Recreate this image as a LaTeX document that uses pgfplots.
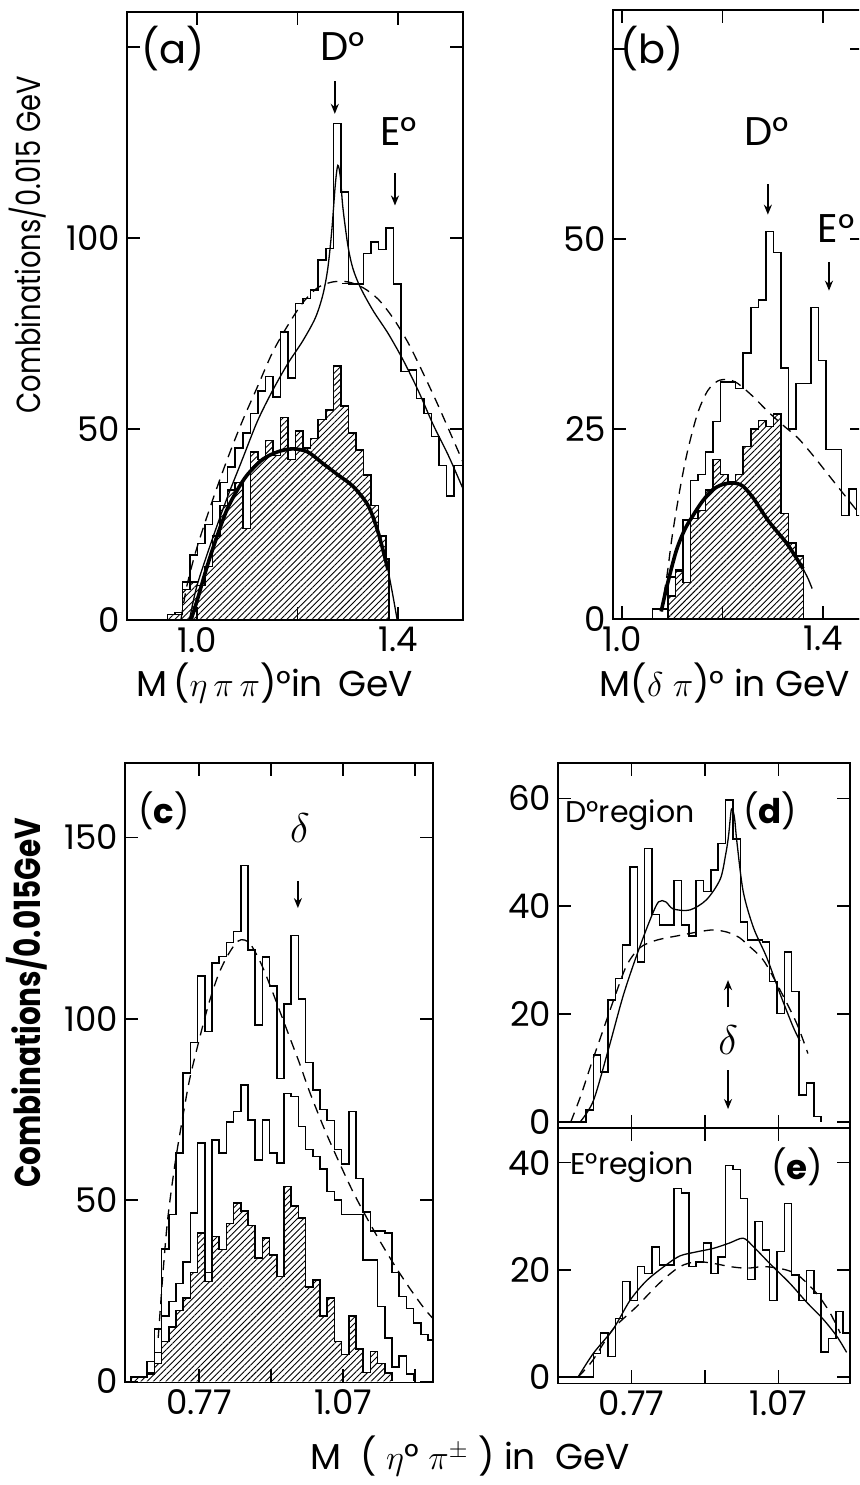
\documentclass[border=0pt]{standalone}
\usepackage{fontspec}
\setmainfont{Poppins}
\newfontfamily\condfont{Poppins}[FakeStretch=0.82]
\usepackage{pgfplots}
\pgfplotsset{compat=1.18}
\usetikzlibrary{arrows.meta,patterns.meta}

\newcommand\tls{\fontsize{17}{19}\selectfont}
\newcommand\lbl{\fontsize{15}{18}\selectfont}
\newcommand\plbl{\fontsize{20}{22}\selectfont}
\newcommand\rlbl{\fontsize{17}{19}\selectfont}
\newcommand\xlbl{\fontsize{18}{20}\selectfont}
\newcommand\ylbla{\condfont\fontsize{16.7}{18}\selectfont}
\newcommand\ylblc{\condfont\fontsize{18}{20}\selectfont}
\newcommand\bigdelta{\fontsize{20}{22}\selectfont}

\tikzset{arr/.style={-{Stealth[length=5pt,width=4pt]}, line width=0.9pt}}
\pgfplotsset{
  panel/.style={
    scale only axis, anchor=south west, clip mode=individual,
    axis line style={line width=0.9pt},
    tick align=inside, major tick length=6.5pt,
    every tick/.style={black, line width=0.8pt},
    tick label style={font=\tls},
  },
  hist/.style={const plot, black, line width=0.75pt, mark=none},
  hatch/.style={hist, pattern={Lines[angle=45,distance=2.2pt,line width=0.45pt]}, pattern color=black},
  fit/.style={black, line width=0.65pt, smooth, mark=none},
  thickfit/.style={black, line width=1.8pt, smooth, mark=none},
  bg/.style={black, line width=0.65pt, dash pattern=on 5pt off 3.5pt, smooth, mark=none},
}

\begin{document}
\begin{tikzpicture}
\useasboundingbox (0,0) rectangle (429.5pt,742.5pt);
\clip (0,0) rectangle (429.5pt,742.5pt);

% ---------------- (a)
\begin{axis}[panel, at={(63.5pt,432.5pt)}, width=168pt, height=304pt,
  xmin=0.86083, xmax=1.52883, ymin=0, ymax=159.16,
  xtick={1.0,1.2,1.4}, xticklabels={1.0,,1.4},
  ytick={0,50,100,150}, yticklabels={0,50,100,},
  xlabel={M\,($\eta\,\pi\,\pi$)°in\, GeV},
  xlabel style={at={(axis description cs:0.44,-0.1266)}, anchor=base, font=\xlbl},
  ylabel={Combinations/0.015 GeV},
  ylabel style={at={(axis description cs:-0.295,0.617)}, anchor=center, font=\ylbla}]
\addplot[hist] coordinates {(0.941,0)(0.941,1.5)(0.956,2)(0.971,10)(0.986,17)(1.001,20)(1.016,25)(1.031,31)(1.046,36)(1.061,40)(1.076,45)(1.091,49)(1.106,54)(1.121,60)(1.136,63.7)(1.151,58.4)(1.166,75.4)(1.181,63.3)(1.196,82.9)(1.211,84.2)(1.226,86.4)(1.241,94.2)(1.256,97.3)(1.271,130)(1.286,112)(1.301,88)(1.316,88)(1.331,96)(1.346,99)(1.361,97)(1.376,102.6)(1.391,88)(1.406,65)(1.421,65.5)(1.436,58)(1.451,54)(1.466,48)(1.481,40.5)(1.496,32.5)(1.511,40.5)(1.53,40.5)};
\addplot[hatch] coordinates {(0.941,0)(0.941,1.5)(0.956,1.5)(0.971,8)(0.986,10)(1.001,9)(1.016,14)(1.031,22)(1.046,30)(1.061,34)(1.076,36)(1.091,24)(1.106,44)(1.121,42)(1.136,47)(1.151,43)(1.166,53)(1.181,42)(1.196,49.5)(1.211,45)(1.226,47.5)(1.241,52.5)(1.256,55)(1.271,66.5)(1.286,56)(1.301,49)(1.316,44.5)(1.331,38)(1.346,30)(1.361,22)(1.376,16)(1.382,0)};
\addplot[bg] coordinates {(0.968,0)(0.98,9)(1.0,19)(1.03,31)(1.06,42)(1.09,52)(1.12,61)(1.15,70)(1.18,77)(1.21,83)(1.24,87)(1.27,88.5)(1.30,88.5)(1.33,87)(1.36,84)(1.39,79)(1.42,72.5)(1.45,64.5)(1.48,56)(1.51,47)(1.53,41)};
\addplot[fit] coordinates {(0.985,0)(1.0,9)(1.03,21)(1.06,32)(1.09,42)(1.12,52)(1.15,60)(1.18,67)(1.21,73)(1.235,79)(1.25,85)(1.26,92)(1.268,102)(1.275,114)(1.28,119)(1.285,116)(1.29,108)(1.30,98)(1.31,92)(1.325,87)(1.35,81)(1.38,75)(1.41,68)(1.44,60)(1.47,51)(1.50,43)(1.53,34)};
\addplot[fit, sharp plot] coordinates {(1.288,88)(1.322,88)};
\addplot[thickfit] coordinates {(0.988,0)(1.0,5)(1.02,14)(1.04,22)(1.06,29)(1.08,34)(1.10,38)(1.13,42)(1.16,44)(1.19,44.8)(1.22,44)(1.25,41)(1.28,38)(1.31,35)(1.34,30)(1.36,23)(1.38,13)};
\addplot[fit] coordinates {(1.38,13)(1.39,6)(1.398,0)};
\node[font=\plbl] at (axis cs:0.9523,149.7) {(a)};
\node[font=\plbl] at (axis cs:1.289,150) {D°};
\draw[arr] (axis cs:1.274,141) -- (axis cs:1.274,132.5);
\node[font=\plbl] at (axis cs:1.4006,128) {E°};
\draw[arr] (axis cs:1.3936,117) -- (axis cs:1.3936,108.5);
\end{axis}

% ---------------- (b)
\begin{axis}[panel, at={(306.5pt,433pt)}, width=125pt, height=304.5pt,
  xmin=0.98211, xmax=1.47913, ymin=0, ymax=80.13,
  xtick={1.0,1.2,1.4}, xticklabels={1.0,,1.4},
  ytick={0,25,50,75}, yticklabels={0,25,50,},
  xlabel={M($\delta\;\pi$)° in GeV},
  xlabel style={at={(axis description cs:0.448,-0.128)}, anchor=base, font=\xlbl}]
\addplot[hist] coordinates {(1.061,0)(1.061,1.3)(1.076,1.3)(1.091,5.5)(1.106,6.5)(1.121,13)(1.136,18.2)(1.151,19)(1.166,22)(1.181,26)(1.196,31.2)(1.211,31.2)(1.226,30.3)(1.241,35)(1.256,41)(1.271,42)(1.286,51)(1.301,48.2)(1.316,33)(1.331,25)(1.346,31)(1.361,31)(1.376,41)(1.391,34)(1.406,22.3)(1.421,22.3)(1.436,13.6)(1.451,17.1)(1.466,13.6)(1.481,13.6)};
\addplot[hatch] coordinates {(1.091,0)(1.091,3)(1.106,6.3)(1.121,4.8)(1.136,13.2)(1.151,14.3)(1.166,17)(1.181,21)(1.196,19)(1.211,18)(1.226,19)(1.241,22.7)(1.256,25)(1.271,26.1)(1.286,25.3)(1.301,27)(1.316,13.9)(1.331,10)(1.346,8.3)(1.361,0)};
\addplot[bg] coordinates {(1.078,1)(1.09,6)(1.10,11)(1.115,17)(1.13,22)(1.15,27)(1.17,30)(1.19,31.3)(1.21,31.5)(1.23,31)(1.26,29.3)(1.29,27.3)(1.32,25.5)(1.35,23.8)(1.38,21.5)(1.41,19)(1.44,16.5)(1.47,14)(1.48,13.2)};
\addplot[thickfit] coordinates {(1.078,1)(1.09,4.5)(1.108,9)(1.125,11.8)(1.141,13.6)(1.16,15.5)(1.18,17)(1.20,17.7)(1.221,17.9)(1.24,17.5)(1.26,16)(1.274,14.6)(1.29,13)(1.307,11.6)(1.327,10)(1.345,8.2)(1.36,6.6)};
\addplot[fit] coordinates {(1.36,6.6)(1.37,5.3)(1.378,4)};
\node[font=\plbl] at (axis cs:1.0596,75.1) {(b)};
\node[font=\plbl] at (axis cs:1.2883,64.1) {D°};
\draw[arr] (axis cs:1.29,57.2) -- (axis cs:1.29,53.2);
\node[font=\plbl] at (axis cs:1.4254,51.4) {E°};
\draw[arr] (axis cs:1.4115,47) -- (axis cs:1.4115,43.2);
\end{axis}

% ---------------- (c)
\begin{axis}[panel, at={(62.5pt,51.25pt)}, width=154pt, height=309.75pt,
  xmin=0.61583, xmax=1.2575, ymin=-0.28, ymax=170.5,
  xtick={0.77,0.92,1.07,1.22}, xticklabels={0.77,,1.07,},
  ytick={0,50,100,150}, yticklabels={0,50,100,150},
  xlabel={M\ \ ( $\eta$° $\pi^{\pm}$ ) in\ \ GeV},
  xlabel style={at={(axis description cs:1.12,-0.1412)}, anchor=base, font=\xlbl},
  ylabel={\bfseries Combinations/0.015GeV},
  ylabel style={at={(axis description cs:-0.318,0.6126)}, anchor=center, font=\ylblc}]
\addplot[hist] coordinates {(0.628,0)(0.628,1.2)(0.647,1.2)(0.662,5.5)(0.677,14.5)(0.692,36.5)(0.707,46)(0.722,63)(0.737,85)(0.752,93.5)(0.767,111.8)(0.782,96.5)(0.797,115.3)(0.812,117.2)(0.827,121)(0.842,124)(0.857,142.2)(0.872,119)(0.887,98.3)(0.902,117)(0.917,109)(0.932,83.5)(0.947,104)(0.962,123)(0.977,105.5)(0.992,88)(1.007,80.4)(1.022,75)(1.037,72)(1.052,64)(1.067,60)(1.082,74.4)(1.097,56)(1.112,46.7)(1.127,41.5)(1.142,41.5)(1.157,40.9)(1.172,30)(1.187,23.4)(1.202,20.1)(1.217,16.1)(1.232,13)(1.247,11.5)(1.26,11.5)};
\addplot[hist] coordinates {(0.628,0)(0.628,1.2)(0.647,1.2)(0.662,2.5)(0.677,8)(0.692,18)(0.707,22)(0.722,27)(0.737,33)(0.752,46.4)(0.767,65.7)(0.782,30)(0.797,66.6)(0.812,63)(0.827,71.6)(0.842,74.4)(0.857,81.7)(0.872,72.1)(0.887,61)(0.902,72.1)(0.917,63)(0.932,60.2)(0.947,79.4)(0.962,78.5)(0.977,70.3)(0.992,64)(1.007,62)(1.022,58.6)(1.037,52.4)(1.052,50)(1.067,46)(1.082,46)(1.097,46)(1.112,33.5)(1.127,33.5)(1.142,20.7)(1.157,12)(1.172,4)(1.187,7)(1.202,2)(1.217,0)};
\addplot[hatch] coordinates {(0.628,0)(0.628,1.2)(0.647,1.2)(0.662,2)(0.677,5)(0.692,11)(0.707,15)(0.722,19.5)(0.737,23)(0.752,30)(0.767,41)(0.782,27.5)(0.797,40)(0.812,36.4)(0.827,43.6)(0.842,49.2)(0.857,47)(0.872,43)(0.887,34)(0.902,39.6)(0.917,34.8)(0.932,29)(0.947,53.7)(0.962,48.4)(0.977,45)(0.992,26)(1.007,28)(1.022,18)(1.037,23)(1.052,11)(1.067,7.5)(1.082,18)(1.097,9)(1.112,2.5)(1.127,8.2)(1.142,5)(1.157,2.3)(1.172,0)};
\addplot[bg] coordinates {(0.685,12)(0.695,30)(0.705,45)(0.72,60)(0.735,72)(0.75,83)(0.77,94)(0.79,104)(0.81,112)(0.83,117.5)(0.85,121.3)(0.865,121.7)(0.88,120)(0.90,115)(0.92,108.5)(0.94,101.5)(0.96,94.5)(0.98,87.5)(1.0,80)(1.03,70)(1.06,61)(1.09,52.5)(1.12,45)(1.15,38)(1.18,31.5)(1.21,25.5)(1.24,20)(1.26,17)};
\node[font=\rlbl] at (axis cs:0.697,157.3) {(\textbf{c})};
\node[font=\bigdelta] at (axis cs:0.98,152.6) {$\delta$};
\draw[arr] (axis cs:0.976,138) -- (axis cs:0.976,130.5);
\end{axis}

% ---------------- (d)
\begin{axis}[panel, at={(279.15pt,178.5pt)}, width=145.85pt, height=182.35pt,
  xmin=0.6206, xmax=1.2159, ymin=-1.11, ymax=66.49,
  xtick={0.77,0.92,1.07}, xticklabels={},
  ytick={0,20,40,60}, yticklabels={0,20,40,60}]
\addplot[hist] coordinates {(0.6206,0)(0.677,2.2)(0.692,12.4)(0.707,9.3)(0.722,22.6)(0.737,26.6)(0.752,32.8)(0.767,47.3)(0.782,29.7)(0.797,50.7)(0.812,38.5)(0.827,36.5)(0.842,36.5)(0.857,44.8)(0.872,36.5)(0.887,34.5)(0.902,44.8)(0.917,42.7)(0.932,46.7)(0.947,51.6)(0.962,59.7)(0.977,52.5)(0.992,37.1)(1.007,33.7)(1.022,33.7)(1.037,33.4)(1.052,26)(1.067,20.1)(1.082,31.5)(1.097,24.2)(1.112,5)(1.127,7.2)(1.142,1)(1.157,0)};
\addplot[bg] coordinates {(0.646,0)(0.667,5)(0.687,10.5)(0.71,16.5)(0.735,23)(0.76,29)(0.787,32.3)(0.821,33.7)(0.869,34.6)(0.91,35.3)(0.937,35.6)(0.965,35.2)(0.99,34.2)(1.005,33)(1.039,30)(1.073,24.5)(1.107,18.3)(1.13,12.7)};
\addplot[fit] coordinates {(0.665,0)(0.692,3.9)(0.723,13.5)(0.753,23.4)(0.781,31)(0.808,37.5)(0.825,40.8)(0.84,40.8)(0.855,39.5)(0.889,39.3)(0.923,41.2)(0.951,45)(0.962,49.5)(0.968,53)(0.974,58)(0.98,56.5)(0.985,52)(0.998,42.7)(1.019,36)(1.046,30.5)(1.073,23.8)(1.10,17.6)(1.114,15)};
\node[font=\lbl, anchor=west, inner sep=0pt] at (axis cs:0.6343,56.9) {D°region};
\node[font=\rlbl] at (axis cs:1.0526,57.6) {(\textbf{d})};
\node[font=\bigdelta] at (axis cs:0.967,15.2) {$\delta$};
\draw[arr] (axis cs:0.967,21.3) -- (axis cs:0.967,26.3);
\draw[arr] (axis cs:0.967,9.6) -- (axis cs:0.967,2.4);
\end{axis}

% ---------------- (e)
\begin{axis}[panel, at={(279.15pt,50.75pt)}, width=145.85pt, height=127.75pt,
  xmin=0.6206, xmax=1.2159, ymin=-1.21, ymax=46.46,
  xtick={0.77,0.92,1.07}, xticklabels={0.77,,1.07},
  ytick={0,20,40}, yticklabels={0,20,40}]
\addplot[hist] coordinates {(0.6206,0)(0.692,4.4)(0.707,8.2)(0.722,3.8)(0.737,10.9)(0.752,17.8)(0.767,14.3)(0.782,20.6)(0.797,19.3)(0.812,24.3)(0.827,20.9)(0.842,20.9)(0.857,35.2)(0.872,34.3)(0.887,20.6)(0.902,21.5)(0.917,25)(0.932,19.3)(0.947,22.4)(0.962,39.5)(0.977,38.7)(0.992,33.3)(1.007,18.2)(1.022,29)(1.037,23.7)(1.052,14.3)(1.067,23.4)(1.082,32.4)(1.097,19)(1.112,14.3)(1.127,19.9)(1.142,15.6)(1.157,4.7)(1.172,7.2)(1.187,12.2)(1.202,8.2)(1.2159,8.2)};
\addplot[bg] coordinates {(0.661,0)(0.69,3)(0.733,9)(0.78,13.1)(0.828,17.6)(0.869,20.6)(0.903,21.5)(0.937,21.2)(0.971,20.6)(1.005,20.3)(1.039,20.6)(1.07,20.3)(1.095,19.7)(1.114,18.7)(1.148,15.6)(1.175,12)(1.196,8.2)};
\addplot[fit] coordinates {(0.661,0)(0.692,4.4)(0.733,9)(0.767,14.3)(0.801,18)(0.842,21)(0.869,22.6)(0.90,23.3)(0.937,24)(0.97,25)(0.998,25.9)(1.019,24.3)(1.053,21.1)(1.093,17.5)(1.127,14)(1.161,10.8)(1.189,7.6)(1.209,4.6)};
\node[font=\lbl, anchor=west, inner sep=0pt] at (axis cs:0.6445,39.2) {E°region};
\node[font=\rlbl] at (axis cs:1.1076,39.2) {(\textbf{e})};
\end{axis}
\end{tikzpicture}
\end{document}
